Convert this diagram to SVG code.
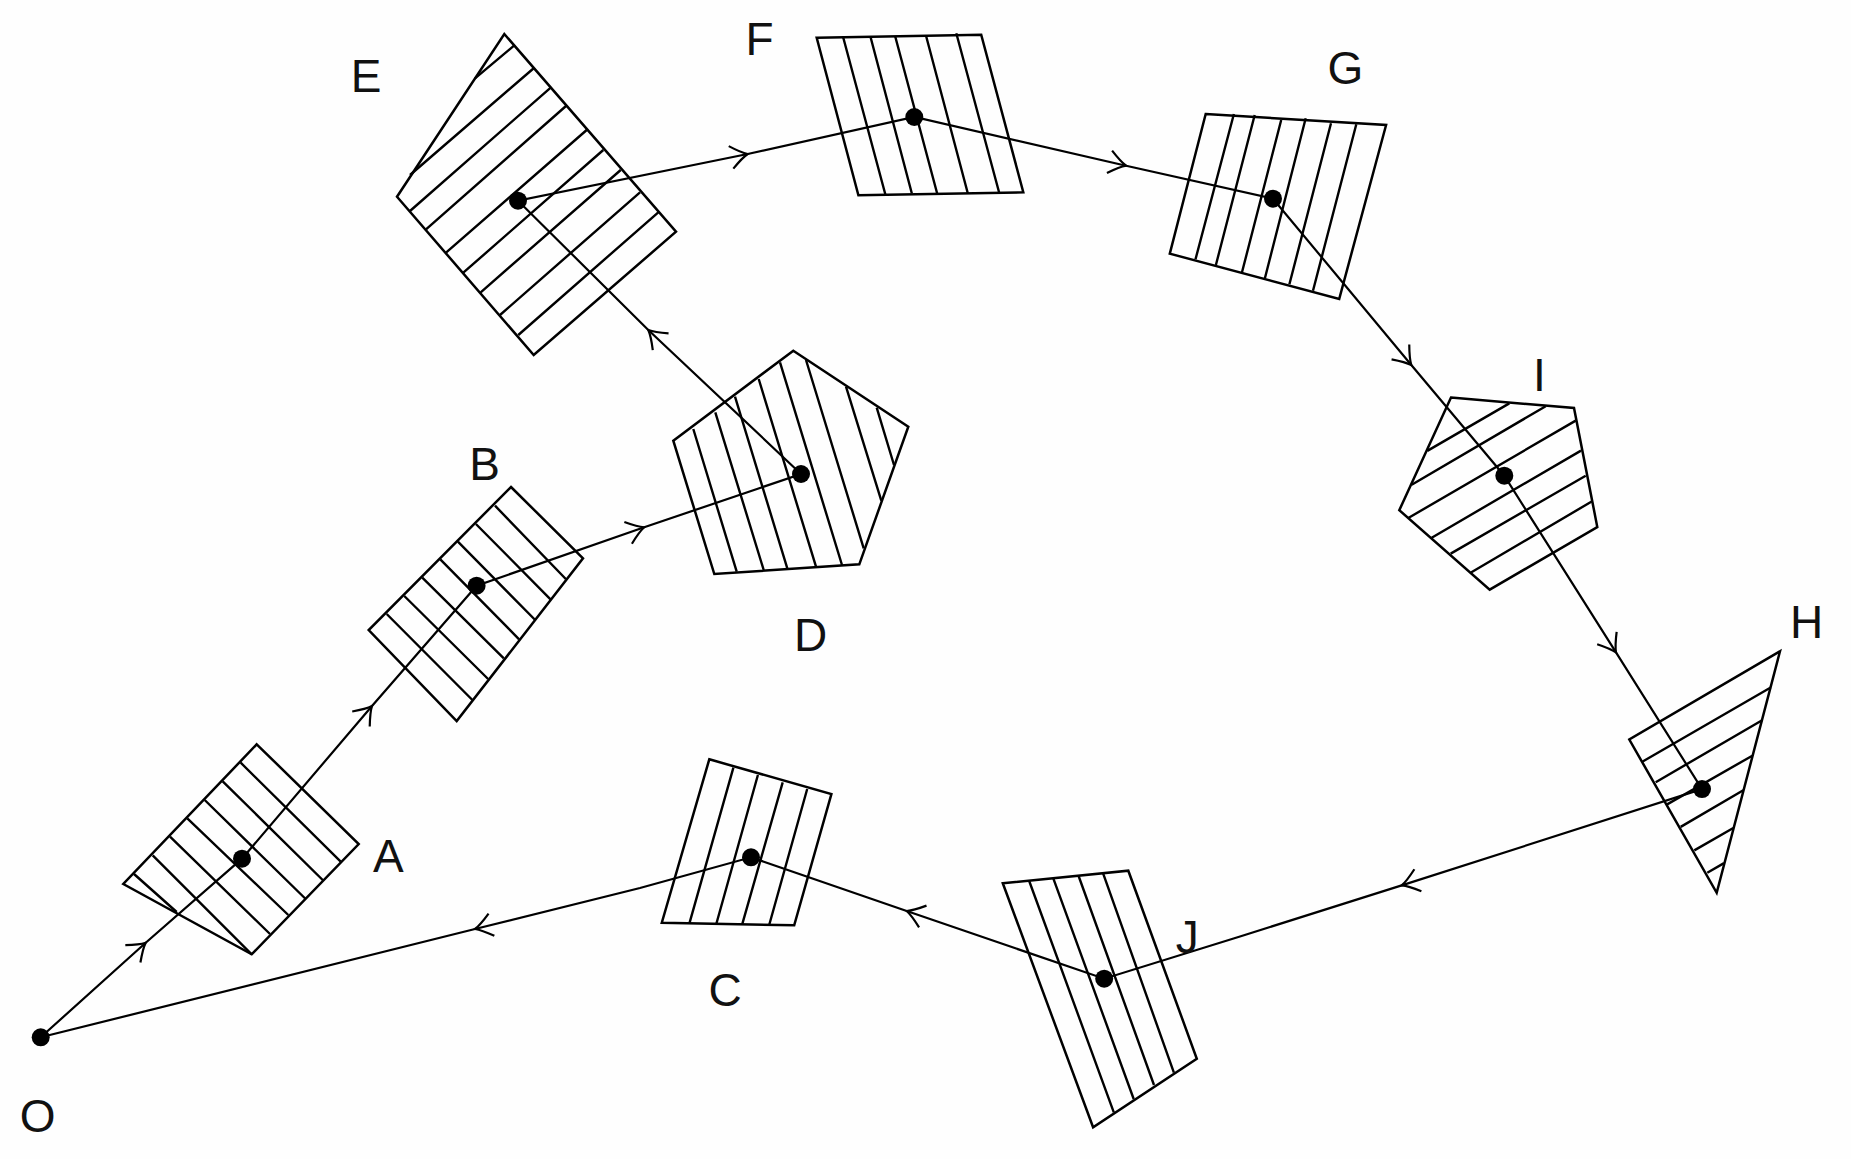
<svg xmlns="http://www.w3.org/2000/svg" width="1851" height="1159" viewBox="0 0 1851 1159">
<style>
.s{fill:none;stroke:#000;stroke-width:2.5;stroke-linejoin:miter}
.h{fill:none;stroke:#000;stroke-width:2.4}
.c{fill:none;stroke:#000;stroke-width:2.2}
.d{fill:#000}
.t{font-family:"Liberation Sans",Arial,sans-serif;font-size:46px;fill:#111;text-anchor:middle}
</style>
<defs>
<path id="arrow" class="c" d="M-17,-11.5 Q-6,-2.5 0,0 Q-6,2.5 -17,11.5"/>
</defs>
<rect width="1851" height="1159" fill="#fefefe"/>
<g id="connectors">
<polyline class="c" points="40.7,1037.3 145.7,942.7 242,858.7 372,706 476.6,585.7 644.2,527.3 801,474 648.3,330 518,200.7 747.7,154 914.3,117 1126.1,165.7 1273,198.7 1411.3,365 1504.3,475.7 1616,652.4 1702,789.1 1401.7,885.4 1240,936.5 1104.2,978.7 906.7,911 751,857.3 640,888 475,929 40.7,1037.3"/>
<use href="#arrow" transform="translate(145.7,942.7) rotate(-41)"/>
<use href="#arrow" transform="translate(372,706) rotate(-49.6)"/>
<use href="#arrow" transform="translate(644.2,527.3) rotate(-19.2)"/>
<use href="#arrow" transform="translate(648.3,330) rotate(-136.7)"/>
<use href="#arrow" transform="translate(747.7,154) rotate(-11.5)"/>
<use href="#arrow" transform="translate(1126.1,165.7) rotate(13)"/>
<use href="#arrow" transform="translate(1411.3,365) rotate(50.2)"/>
<use href="#arrow" transform="translate(1616,652.4) rotate(57.7)"/>
<use href="#arrow" transform="translate(1401.7,885.4) rotate(162.2)"/>
<use href="#arrow" transform="translate(906.7,911) rotate(198.9)"/>
<use href="#arrow" transform="translate(475,929) rotate(165.4)"/>
</g>
<g id="node-O">
<circle class="d" cx="40.7" cy="1037.3" r="9"/>
<text class="t" x="37.7" y="1132">O</text>
</g>
<g id="node-A">
<polygon class="s" points="256.7,744.3 358.7,844 251.7,954.3 123.3,884"/>
<path class="h" d="M240.7,762.7L340.7,861.7M222.7,781.3L322.7,880M204.7,800L305.7,899M187.3,818.3L288.3,915M170,836.7L270,934M152.7,855.3L251.7,954.3M134,874L176.7,912"/>
<circle class="d" cx="242" cy="858.7" r="9"/>
<text class="t" x="388.3" y="871.7">A</text>
</g>
<g id="node-B">
<polygon class="s" points="511,487 583,558.3 456.7,721 368.7,630"/>
<path class="h" d="M495,505.7L565.8,579M475.9,524L550.5,599.3M457.9,541.7L535.2,620M440.3,559.3L519.1,639.3M422.3,577.7L503.8,658.3M404.3,596L488.1,679M386.7,614L472.4,700"/>
<circle class="d" cx="476.6" cy="585.7" r="9"/>
<text class="t" x="484.7" y="480">B</text>
</g>
<g id="node-C">
<polygon class="s" points="709.3,759.3 831.4,794 794.2,925.3 661.8,922.7"/>
<path class="h" d="M733.4,767.7L689.4,923.3M757.9,775L716.5,923.3M782.7,782.3L742.2,924.3M807.2,789L769.4,924.3"/>
<circle class="d" cx="751" cy="857.3" r="9"/>
<text class="t" x="725" y="1006">C</text>
</g>
<g id="node-D">
<polygon class="s" points="793.3,350.7 908.3,426.7 859.3,564.3 714.3,574 673.3,440.7"/>
<path class="h" d="M693.3,429L736.7,571.7M715.3,412.3L763.7,570M735,396.7L787.3,568.3M758.7,379L816,566.7M780,362.3L842,565M806,360L863.7,548.3M846,386.7L881.3,500.7M876.7,407.7L894,465"/>
<circle class="d" cx="801" cy="474" r="9"/>
<text class="t" x="810.7" y="650.7">D</text>
</g>
<g id="node-E">
<polygon class="s" points="504.3,34 676,231.7 533.7,355 397,196.7"/>
<path class="h" d="M514,45.7L475,78.3M534,68L410,175M551,87.3L410,211M566,106L426,229.3M586.7,130L446,252.7M603.3,150L463.3,272.7M620.7,170L480.7,292.3M640,192.3L500,315M658.3,212.3L518.3,335"/>
<circle class="d" cx="518" cy="200.7" r="9"/>
<text class="t" x="366" y="92">E</text>
</g>
<g id="node-F">
<polygon class="s" points="816.7,37.7 981.2,34.7 1023.3,192.3 858.4,195.3"/>
<path class="h" d="M843.3,37.7L885.3,194.3M870.6,37.3L911.8,193.3M895.1,36L937.1,193.3M926.1,36L967.8,193.3M956.3,33.3L999.2,192.7"/>
<circle class="d" cx="914.3" cy="117" r="9"/>
<text class="t" x="759.5" y="55">F</text>
</g>
<g id="node-G">
<polygon class="s" points="1205.7,114 1386.1,125 1339.2,299 1169.8,253.7"/>
<path class="h" d="M1233.9,114L1195.5,259.3M1254.7,115L1215.9,265M1281.2,120L1242,272.3M1305.7,118.3L1264.9,278.3M1331,123.3L1289.4,284.3M1356.3,124.3L1313,290.7"/>
<circle class="d" cx="1273" cy="198.7" r="9"/>
<text class="t" x="1345.3" y="84">G</text>
</g>
<g id="node-H">
<polygon class="s" points="1780,651.3 1716.7,892.8 1629.3,739.5"/>
<path class="h" d="M1770.7,687.5L1642.7,761.5M1761.7,720.5L1655.7,782.2M1752.3,755.7L1666.7,804.6M1743.3,790.2L1680.7,826.9M1733.3,828L1694.3,850.4M1724,863.1L1707.3,872.8"/>
<circle class="d" cx="1702" cy="789.1" r="9"/>
<text class="t" x="1806.7" y="637.9">H</text>
</g>
<g id="node-I">
<polygon class="s" points="1451,397.6 1574,407.9 1597.3,527 1489.7,589.7 1399.3,510.2"/>
<path class="h" d="M1509.3,403.4L1427.3,450.9M1545.7,406.2L1411.7,484.7M1575.7,420.6L1408.3,518M1581,450.6L1431.7,537.7M1585.7,475.7L1450.7,553.6M1591.7,501.5L1471,572.5"/>
<circle class="d" cx="1504.3" cy="475.7" r="9"/>
<text class="t" x="1539.3" y="390.7">I</text>
</g>
<g id="node-J">
<polygon class="s" points="1002.8,883.3 1128.3,870.7 1196.8,1058.7 1093.1,1127.3"/>
<path class="h" d="M1029.2,881L1113.8,1112.3M1053.3,878.3L1133.7,1099M1078.6,876L1154,1085M1103.1,873.3L1173.9,1072.7"/>
<circle class="d" cx="1104.2" cy="978.7" r="9"/>
<text class="t" x="1187.3" y="953.3">J</text>
</g>
</svg>
